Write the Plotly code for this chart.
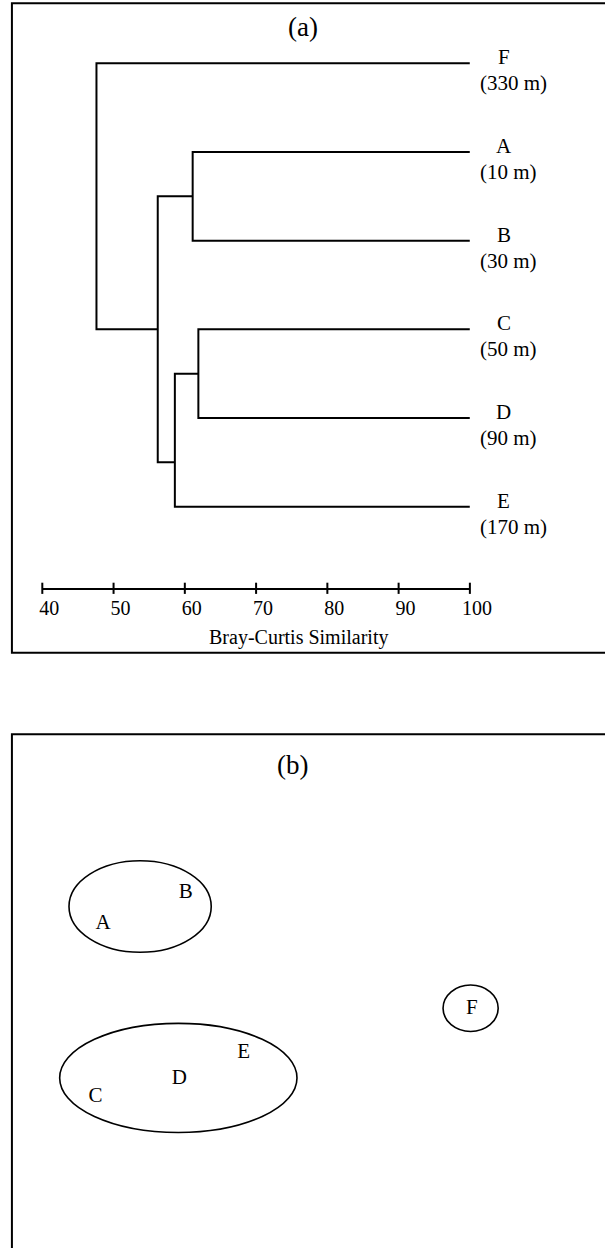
import plotly.graph_objects as go

W, H = 605, 1248
FONT = "Liberation Serif"

# ---------------- data: panel (a) dendrogram ----------------
leaves = ["F", "A", "B", "C", "D", "E"]            # top to bottom
depths = ["(330 m)", "(10 m)", "(30 m)", "(50 m)", "(90 m)", "(170 m)"]
leaf_similarity = 100

merge_names = ["AB", "CD", "CDE", "ABCDE", "ROOT"]
merge_left = ["A", "C", "CD", "AB", "F"]
merge_right = ["B", "D", "E", "CDE", "ABCDE"]
merge_similarity = [61.1, 61.9, 58.6, 56.2, 47.6]
merge_order_pos = [1.5, 3.5, 4.5, 3.0, 1.5]      # position along leaf order

tick_vals = [40, 50, 60, 70, 80, 90, 100]
axis_title = "Bray-Curtis Similarity"

# ---------------- data: panel (b) ordination ----------------
mds_labels = ["A", "B", "C", "D", "E", "F"]
mds_x = [-1.024, -0.589, -1.063, -0.623, -0.285, 0.915]
mds_y = [0.341, 0.493, -0.533, -0.440, -0.311, -0.091]

group_names = ["A-B", "C-D-E", "F"]
group_cx = [-0.829, -0.628, 0.909]
group_cy = [0.426, -0.438, -0.087]
group_rx = [0.374, 0.624, 0.145]
group_ry = [0.231, 0.275, 0.117]


def px(x):
    return x / W


def py(y):
    return 1 - y / H


fig = go.Figure()

# dendrogram links
sim = {lf: leaf_similarity for lf in leaves}
pos = {lf: i for i, lf in enumerate(leaves)}
for n, s, p in zip(merge_names, merge_similarity, merge_order_pos):
    sim[n] = s
    pos[n] = p

xs, ys = [], []
for n, l, r in zip(merge_names, merge_left, merge_right):
    xs += [sim[l], sim[n], sim[n], sim[r], None]
    ys += [pos[l], pos[l], pos[r], pos[r], None]

fig.add_trace(go.Scatter(x=xs, y=ys, mode="lines",
                         line=dict(color="black", width=2),
                         xaxis="x", yaxis="y", hoverinfo="skip",
                         showlegend=False))

y_axis_level = 5.92
y_top = -0.488
# crossing tick marks on the similarity axis
fig.add_trace(go.Scatter(x=tick_vals, y=[y_axis_level] * len(tick_vals),
                         mode="markers",
                         marker=dict(symbol="line-ns", size=8,
                                     line=dict(color="black", width=2)),
                         cliponaxis=False, xaxis="x", yaxis="y",
                         hoverinfo="skip", showlegend=False))

# leaf labels
for lf, d in zip(leaves, depths):
    fig.add_annotation(x=leaf_similarity, y=pos[lf], xref="x", yref="y",
                       text=lf, showarrow=False, xanchor="center",
                       yanchor="middle", xshift=34, yshift=6,
                       font=dict(family=FONT, size=21, color="black"))
    fig.add_annotation(x=leaf_similarity, y=pos[lf], xref="x", yref="y",
                       text=d, showarrow=False, xanchor="left",
                       yanchor="middle", xshift=8, yshift=-20,
                       font=dict(family=FONT, size=21, color="black"))

# ordination labels
fig.add_trace(go.Scatter(x=mds_x, y=mds_y, mode="text", text=mds_labels,
                         textposition="middle center",
                         textfont=dict(family=FONT, size=21, color="black"),
                         xaxis="x2", yaxis="y2", hoverinfo="skip",
                         showlegend=False))

shapes = []
for cx, cy, rx, ry in zip(group_cx, group_cy, group_rx, group_ry):
    shapes.append(dict(type="circle", xref="x2", yref="y2",
                       x0=cx - rx, x1=cx + rx, y0=cy - ry, y1=cy + ry,
                       line=dict(color="black", width=1.6)))

# panel frames (right side runs off the page, as in the original scan)
shapes.append(dict(type="rect", xref="paper", yref="paper",
                   x0=px(9.3), x1=px(660), y0=py(652.7), y1=py(3.3),
                   line=dict(color="black", width=2)))
shapes.append(dict(type="rect", xref="paper", yref="paper",
                   x0=px(9.3), x1=px(660), y0=py(1290), y1=py(734.3),
                   line=dict(color="black", width=2)))

fig.add_annotation(x=px(313), y=py(27), xref="paper", yref="paper",
                   text="(a)", showarrow=False, xanchor="center",
                   yanchor="middle",
                   font=dict(family=FONT, size=27, color="black"))
fig.add_annotation(x=px(302), y=py(765), xref="paper", yref="paper",
                   text="(b)", showarrow=False, xanchor="center",
                   yanchor="middle",
                   font=dict(family=FONT, size=27, color="black"))
fig.add_annotation(x=px(308), y=py(637), xref="paper", yref="paper",
                   text=axis_title, showarrow=False, xanchor="center",
                   yanchor="middle",
                   font=dict(family=FONT, size=20, color="black"))

fig.update_layout(
    width=W, height=H,
    margin=dict(l=0, r=0, t=0, b=0),
    paper_bgcolor="white", plot_bgcolor="rgba(0,0,0,0)",
    showlegend=False,
    shapes=shapes,
    xaxis=dict(domain=[px(41), px(487)], range=[40, 100],
               showgrid=False, zeroline=False, showline=True,
               linecolor="black", linewidth=2,
               tickmode="array", tickvals=tick_vals,
               ticks="", ticklabelshift=7, ticklabelstandoff=1,
               tickfont=dict(family=FONT, size=20, color="black"),
               anchor="y", fixedrange=True),
    yaxis=dict(domain=[py(588.3), py(20)], range=[y_axis_level, y_top],
               visible=False, anchor="x", fixedrange=True),
    xaxis2=dict(domain=[0, 1], range=[-1.55, 1.50], visible=False,
                anchor="y2", fixedrange=True),
    yaxis2=dict(domain=[0, py(734)], range=[-1.2956, 1.2956],
                visible=False, anchor="x2", fixedrange=True),
)

fig.write_html("out.html",
               config={"displayModeBar": False, "staticPlot": True},
               post_script="document.body.style.margin='0px';"
                           "document.body.style.overflow='hidden';")
